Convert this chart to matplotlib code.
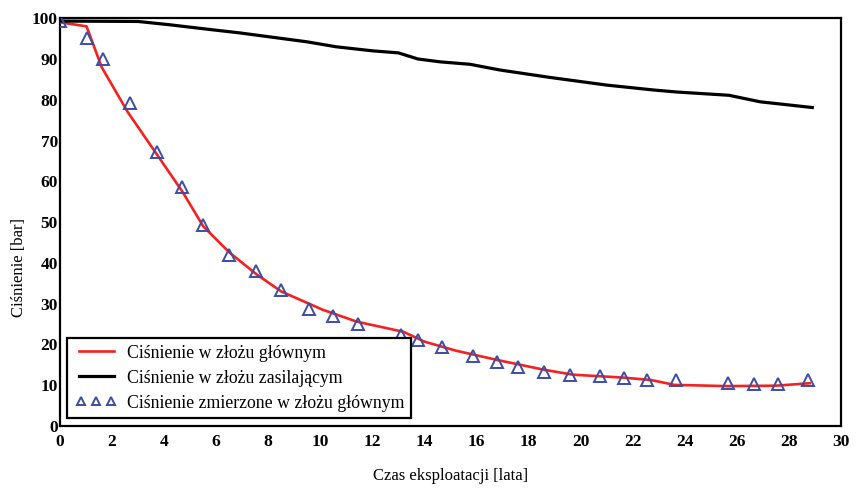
import matplotlib
matplotlib.use("Agg")
import matplotlib.pyplot as plt
from matplotlib.legend_handler import HandlerLine2D

# Main reservoir pressure (red line)
main_x = [0, 1.02, 1.6, 2.6, 3.7, 4.7, 5.5, 6.5, 7.55, 8.5, 10.1, 11.4, 13.2, 14.0,
          15.2, 16.8, 18.6, 19.7, 21.6, 22.7, 23.6, 25.6, 27.5, 28.8]
main_y = [99, 98, 88, 77, 66.8, 57.5, 49, 42.6, 37.2, 33, 28.5, 25.6, 23.1, 20.7,
          18.5, 16.2, 13.8, 12.6, 11.9, 11.3, 10.1, 9.8, 9.9, 10.5]

# Supply reservoir pressure (black line)
supply_x = [0, 3.0, 4.2, 5.8, 6.9, 8.2, 9.5, 10.6, 12.0, 13.0, 13.75, 14.6, 15.75,
            16.9, 18.8, 21.0, 22.8, 23.7, 25.7, 26.9, 28.9]
supply_y = [99.3, 99.2, 98.4, 97.2, 96.4, 95.3, 94.2, 93.0, 92.0, 91.5, 90.0, 89.3, 88.7,
            87.3, 85.5, 83.6, 82.4, 81.9, 81.1, 79.5, 78.1]

# Measured pressure in main reservoir (triangles)
meas_x = [0, 1.05, 1.65, 2.7, 3.72, 4.7, 5.5, 6.5, 7.52, 8.5, 9.58, 10.5, 11.45, 13.1,
          13.75, 14.67, 15.88, 16.78, 17.6, 18.58, 19.6, 20.75, 21.65, 22.55, 23.65,
          25.65, 26.65, 27.6, 28.75]
meas_y = [99.3, 95.2, 90.1, 79.3, 67.2, 58.6, 49.4, 41.9, 38.1, 33.4, 28.8, 27.1, 25, 22.4,
          21.2, 19.3, 17.1, 15.6, 14.4, 13.2, 12.5, 12.2, 11.8, 11.4, 11.3,
          10.6, 10.3, 10.3, 11.2]

x_ticks = list(range(0, 31, 2))
y_ticks = list(range(0, 101, 10))

labels = ["Ciśnienie w złożu głównym",
          "Ciśnienie w złożu zasilającym",
          "Ciśnienie zmierzone w złożu głównym"]

plt.rcParams['font.family'] = ['Liberation Serif', 'DejaVu Serif']

fig = plt.figure(figsize=(8.61, 4.92), dpi=100)
ax = fig.add_axes([0.0697, 0.134, 0.907, 0.829])

ax.plot(main_x, main_y, color='#f52020', lw=1.9, label=labels[0], zorder=3)
ax.plot(supply_x, supply_y, color='black', lw=2.3, label=labels[1], zorder=3)
meas_line, = ax.plot(meas_x, meas_y, linestyle='none', marker='^', markersize=8,
                     markerfacecolor='none', markeredgecolor='#3a4ea6', markeredgewidth=1.4,
                     label=labels[2], zorder=4)

ax.set_xlim(0, 30)
ax.set_ylim(0, 100)
ax.set_xticks(x_ticks)
ax.set_yticks(y_ticks)
ax.tick_params(axis='x', length=0, labelsize=12.5, pad=6)
ax.tick_params(axis='y', length=0, labelsize=12.5, pad=1.5)
for lbl in ax.get_xticklabels() + ax.get_yticklabels():
    lbl.set_fontweight('bold')
for s in ax.spines.values():
    s.set_linewidth(1.6)
    s.set_color('black')

ax.set_xlabel("Czas eksploatacji [lata]", fontsize=12, labelpad=13)
ax.set_ylabel("Ciśnienie [bar]", fontsize=12)
ax.yaxis.set_label_coords(-0.042, 0.39)

leg = ax.legend(loc='lower left', bbox_to_anchor=(0.009, 0.02), borderaxespad=0,
                fontsize=12.8, numpoints=3, handlelength=2.6, handletextpad=0.45,
                labelspacing=0.45, fancybox=False, framealpha=1, borderpad=0.35,
                markerscale=0.8,
                handler_map={meas_line: HandlerLine2D(numpoints=3, marker_pad=0.45)})
leg.get_frame().set_edgecolor('black')
leg.get_frame().set_linewidth(1.6)

fig.savefig("out.png", dpi=100)
